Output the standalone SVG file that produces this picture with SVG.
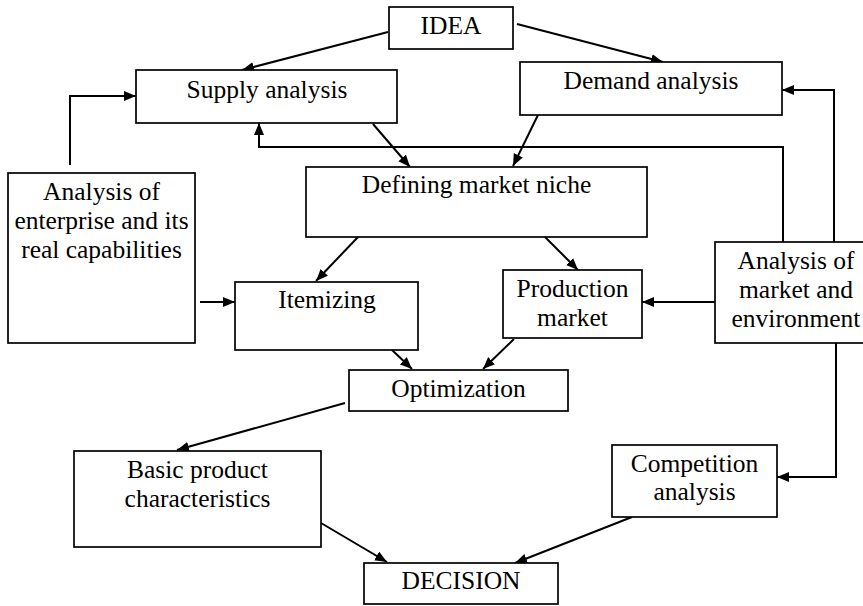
<svg xmlns="http://www.w3.org/2000/svg" width="863" height="606" viewBox="0 0 863 606">
  <style>
    .box { fill: #ffffff; stroke: #000000; stroke-width: 1.7; }
    .lbl { font-family: 'Liberation Serif', Tinos, 'Times New Roman', 'DejaVu Serif', serif; font-size: 25.5px; fill: #000000; text-anchor: middle; }
    .edge { fill: none; stroke: #000000; stroke-width: 2; marker-end: url(#arrow); }
  </style>
  <defs>
    <marker id="arrow" markerUnits="userSpaceOnUse" markerWidth="13" markerHeight="11" refX="12" refY="5" orient="auto">
      <path d="M0,0 L12,5 L0,10 Z" fill="#000000"/>
    </marker>
  </defs>
  <rect width="863" height="606" fill="#ffffff"/>

  <g id="connectors">
    <line class="edge" x1="388" y1="32" x2="242" y2="70"/>
    <line class="edge" x1="517" y1="24" x2="663" y2="62"/>
    <line class="edge" x1="373" y1="124" x2="410" y2="167"/>
    <line class="edge" x1="538" y1="115" x2="513" y2="166"/>
    <polyline class="edge" points="70,165 70,96 136,96"/>
    <polyline class="edge" points="783,242 783,147 259,147 259,123"/>
    <polyline class="edge" points="834,242 834,90 782,90"/>
    <line class="edge" x1="200" y1="302" x2="235" y2="302"/>
    <line class="edge" x1="358" y1="237" x2="316" y2="281"/>
    <line class="edge" x1="545" y1="237" x2="578" y2="270"/>
    <line class="edge" x1="715" y1="302" x2="642" y2="302"/>
    <line class="edge" x1="392" y1="350" x2="412" y2="369"/>
    <line class="edge" x1="514" y1="339" x2="483" y2="369"/>
    <line class="edge" x1="345" y1="403" x2="177" y2="450"/>
    <line class="edge" x1="321" y1="523" x2="387" y2="562"/>
    <polyline class="edge" points="836,343 836,477 777,477"/>
    <line class="edge" x1="632" y1="517" x2="515" y2="563"/>
  </g>

  <g id="idea">
    <rect class="box" x="389" y="7" width="124" height="42"/>
    <text class="lbl" x="451" y="34" font-family="'Liberation Serif', serif">IDEA</text>
  </g>
  <g id="supply-analysis">
    <rect class="box" x="136" y="70" width="261" height="53"/>
    <text class="lbl" x="267" y="98">Supply analysis</text>
  </g>
  <g id="demand-analysis">
    <rect class="box" x="520" y="62" width="262" height="53"/>
    <text class="lbl" x="651" y="89">Demand analysis</text>
  </g>
  <g id="enterprise-analysis">
    <rect class="box" x="8" y="173" width="187" height="170"/>
    <text class="lbl" x="101.5" y="200">Analysis of</text>
    <text class="lbl" x="101.5" y="229">enterprise and its</text>
    <text class="lbl" x="101.5" y="258">real capabilities</text>
  </g>
  <g id="market-niche">
    <rect class="box" x="306" y="167" width="341" height="70"/>
    <text class="lbl" x="476.5" y="193">Defining market niche</text>
  </g>
  <g id="itemizing">
    <rect class="box" x="235" y="282" width="183" height="68"/>
    <text class="lbl" x="327" y="308">Itemizing</text>
  </g>
  <g id="production-market">
    <rect class="box" x="503" y="270" width="139" height="68"/>
    <text class="lbl" x="572.5" y="297">Production</text>
    <text class="lbl" x="572.5" y="326">market</text>
  </g>
  <g id="market-environment">
    <rect class="box" x="715" y="242" width="152" height="101"/>
    <text class="lbl" x="796" y="269">Analysis of</text>
    <text class="lbl" x="796" y="298">market and</text>
    <text class="lbl" x="796" y="327">environment</text>
  </g>
  <g id="optimization">
    <rect class="box" x="349" y="370" width="219" height="41"/>
    <text class="lbl" x="458.5" y="397">Optimization</text>
  </g>
  <g id="product-characteristics">
    <rect class="box" x="74" y="451" width="247" height="96"/>
    <text class="lbl" x="197.5" y="478">Basic product</text>
    <text class="lbl" x="197.5" y="507">characteristics</text>
  </g>
  <g id="competition-analysis">
    <rect class="box" x="612" y="445" width="165" height="72"/>
    <text class="lbl" x="694.5" y="472">Competition</text>
    <text class="lbl" x="694.5" y="500">analysis</text>
  </g>
  <g id="decision">
    <rect class="box" x="364" y="563" width="194" height="41"/>
    <text class="lbl" x="461" y="589">DECISION</text>
  </g>
</svg>
